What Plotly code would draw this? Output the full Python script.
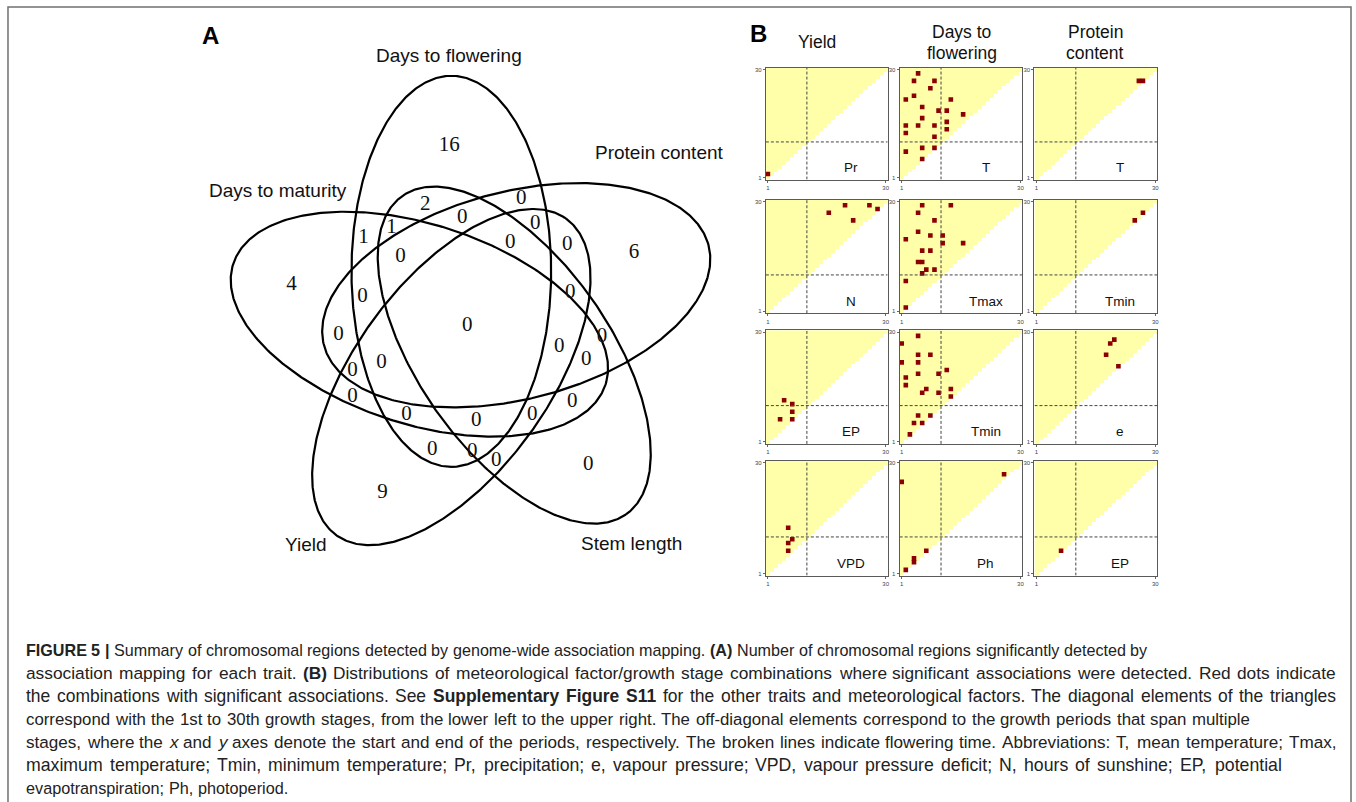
import numpy as np
import plotly.graph_objects as go

W, H = 1356, 802

# ---------------- Panel A: five-trait Venn diagram ----------------
venn_sets = ["Days to flowering", "Days to maturity", "Yield", "Stem length", "Protein content"]
# counts of chromosomal regions in each of the 31 Venn regions
venn_counts = [16, 2, 0, 1, 0, 0, 1, 0, 0, 0, 6, 4, 0, 0, 0, 0, 0,
               0, 0, 0, 0, 0, 0, 0, 0, 0, 0, 0, 0, 0, 9]

# ---------------- Panel B: significant (start, end) stage combinations ----------------
N_STAGES = 30
FLOWERING_STAGE = 10.6

trait_titles = ["Yield", "Days to<br>flowering", "Protein<br>content"]
factor_labels = [["Pr", "T", "T"],
                 ["N", "Tmax", "Tmin"],
                 ["EP", "Tmin", "e"],
                 ["VPD", "Ph", "EP"]]

yield_pr_start = [1]
yield_pr_end = [2]
yield_n_start = [16, 20, 26, 28, 22]
yield_n_end = [27, 29, 29, 28, 25]
yield_ep_start = [5, 7, 7, 4, 7]
yield_ep_end = [12, 11, 9, 7, 7]
yield_vpd_start = [6, 7, 6, 6]
yield_vpd_end = [13, 10, 9, 7]

dtf_t_start = [5, 4, 9, 8, 4, 2, 13, 6, 10, 12, 16, 6, 12, 2, 5, 9, 12, 2, 9, 6, 9, 2, 6]
dtf_t_end = [29, 27, 27, 25, 23, 22, 22, 20, 19, 19, 18, 17, 16, 15, 15, 15, 14, 13, 12, 9, 9, 8, 6]
dtf_tmax_start = [6, 13, 5, 9, 5, 8, 11, 2, 11, 16, 6, 8, 5, 6, 7, 9, 6, 2, 2]
dtf_tmax_end = [29, 29, 27, 25, 22, 21, 21, 20, 19, 19, 17, 17, 14, 14, 12, 12, 11, 9, 2]
dtf_tmin_start = [5, 1, 5, 8, 1, 5, 12, 5, 10, 2, 2, 7, 6, 10, 13, 13, 5, 8, 4, 6, 3]
dtf_tmin_end = [29, 27, 24, 24, 22, 22, 20, 19, 19, 18, 16, 15, 14, 14, 15, 13, 8, 8, 6, 6, 3]
dtf_ph_start = [1, 26, 7, 4, 4, 2]
dtf_ph_end = [25, 27, 7, 5, 4, 2]

prot_t_start = [26, 27]
prot_t_end = [27, 27]
prot_tmin_start = [25, 27]
prot_tmin_end = [25, 27]
prot_e_start = [20, 19, 18, 21]
prot_e_end = [28, 27, 24, 21]
prot_ep_start = [7]
prot_ep_end = [7]

panel_points = [
    [(yield_pr_start, yield_pr_end), (dtf_t_start, dtf_t_end), (prot_t_start, prot_t_end)],
    [(yield_n_start, yield_n_end), (dtf_tmax_start, dtf_tmax_end), (prot_tmin_start, prot_tmin_end)],
    [(yield_ep_start, yield_ep_end), (dtf_tmin_start, dtf_tmin_end), (prot_e_start, prot_e_end)],
    [(yield_vpd_start, yield_vpd_end), (dtf_ph_start, dtf_ph_end), (prot_ep_start, prot_ep_end)],
]

# caption, as (text, style) runs: "" plain, "b" bold, "i" italic
caption_lines = [
    [("FIGURE 5 |", "b"), ("Summary of chromosomal regions detected by genome-wide association mapping.", ""),
     ("(A)", "b"), ("Number of chromosomal regions significantly detected by", "")],
    [("association mapping for each trait.", ""), ("(B)", "b"),
     ("Distributions of meteorological factor/growth stage combinations where significant associations were detected. Red dots indicate", "")],
    [("the combinations with significant associations. See", ""), ("Supplementary Figure S11", "b"),
     ("for the other traits and meteorological factors. The diagonal elements of the triangles", "")],
    [("correspond with the 1st to 30th growth stages, from the lower left to the upper right. The off-diagonal elements correspond to the growth periods that span multiple", "")],
    [("stages, where the", ""), ("x", "i"), ("and", ""), ("y", "i"),
     ("axes denote the start and end of the periods, respectively. The broken lines indicate flowering time. Abbreviations: T, mean temperature; Tmax,", "")],
    [("maximum temperature; Tmin, minimum temperature; Pr, precipitation; e, vapour pressure; VPD, vapour pressure deficit; N, hours of sunshine; EP, potential", "")],
    [("evapotranspiration; Ph, photoperiod.", "")],
]
caption_line_end = [1147, 1336, 1336, 1250, 1336, 1282, 287]

# ---------------- layout helpers (pixel -> paper) ----------------
def px(x):
    return x / W


def py(y):
    return 1 - y / H


SANS = "Liberation Sans, Arial, sans-serif"
SERIF = "Liberation Serif, Times New Roman, serif"

# Arial-compatible advance widths (1/1000 em) used to fit caption lines
_REG = {" ": 278, "!": 278, "(": 333, ")": 333, ",": 278, "-": 333, ".": 278, "/": 278,
        ":": 278, ";": 278, "|": 260}
_BOLD = {" ": 278, "(": 333, ")": 333, ",": 278, "-": 333, ".": 278, "/": 278,
         ":": 333, ";": 333, "|": 280}
for ch in "0123456789":
    _REG[ch] = 556
    _BOLD[ch] = 556
for ch, w in zip("ABCDEFGHIJKLMNOPQRSTUVWXYZ",
                 [667, 667, 722, 722, 667, 611, 778, 722, 278, 500, 667, 556, 833, 722, 778,
                  667, 778, 722, 667, 611, 722, 667, 944, 667, 667, 611]):
    _REG[ch] = w
for ch, w in zip("ABCDEFGHIJKLMNOPQRSTUVWXYZ",
                 [722, 722, 722, 722, 667, 611, 778, 722, 278, 556, 722, 611, 833, 722, 778,
                  667, 778, 722, 667, 611, 722, 667, 944, 667, 667, 611]):
    _BOLD[ch] = w
for ch, w in zip("abcdefghijklmnopqrstuvwxyz",
                 [556, 556, 500, 556, 556, 278, 556, 556, 222, 222, 500, 222, 833, 556, 556,
                  556, 556, 333, 500, 278, 556, 500, 722, 500, 500, 500]):
    _REG[ch] = w
for ch, w in zip("abcdefghijklmnopqrstuvwxyz",
                 [556, 611, 556, 611, 556, 333, 611, 611, 278, 278, 556, 278, 889, 611, 611,
                  611, 611, 389, 556, 333, 611, 556, 778, 556, 556, 500]):
    _BOLD[ch] = w


def text_width(s, style, size):
    table = _BOLD if style == "b" else _REG
    return sum(table.get(ch, 556) for ch in s) * size / 1000.0


fig = go.Figure()
annotations = []
shapes = []

# ---------------- Panel B grid ----------------
col_px = [(767, 889), (901, 1024), (1036, 1159)]
row_px = [(67, 179), (199, 313), (330, 444), (461, 576)]
YELLOW = "#FFFFAA"
DOT = "#8B0000"

stages = np.arange(1, N_STAGES + 1)
ii, jj = np.meshgrid(stages, stages)
tri = np.where(jj >= ii, 1.0, np.nan)

k = 0
for r, (ry0, ry1) in enumerate(row_px):
    for c, (cx0, cx1) in enumerate(col_px):
        k += 1
        xa = "x" if k == 1 else f"x{k}"
        ya = "y" if k == 1 else f"y{k}"
        fig.add_trace(go.Heatmap(
            x=stages, y=stages, z=tri, xaxis=xa, yaxis=ya,
            colorscale=[[0, YELLOW], [1, YELLOW]], showscale=False,
            hoverinfo="skip", xgap=0, ygap=0,
        ))
        starts, ends = panel_points[r][c]
        fig.add_trace(go.Scatter(
            x=starts, y=ends, xaxis=xa, yaxis=ya, mode="markers",
            marker=dict(symbol="square", size=4.6, color=DOT, line=dict(width=0)),
            showlegend=False, hoverinfo="skip",
        ))
        axis_common = dict(
            range=[0.5, N_STAGES + 0.5], tickvals=[1, N_STAGES],
            ticktext=["1", str(N_STAGES)], ticks="outside", ticklen=2,
            tickcolor="#666", tickfont=dict(size=6, color="#444", family=SANS),
            showline=True, mirror=True, linecolor="#5a5a5a", linewidth=1.2,
            showgrid=False, zeroline=False, fixedrange=True,
        )
        fig.update_layout(**{
            ("xaxis" if k == 1 else f"xaxis{k}"): dict(
                domain=[px(cx0), px(cx1)], anchor=ya, **axis_common),
            ("yaxis" if k == 1 else f"yaxis{k}"): dict(
                domain=[py(ry1), py(ry0)], anchor=xa, **axis_common),
        })
        # flowering-time guides
        shapes.append(dict(type="line", xref=xa, yref=ya,
                           x0=FLOWERING_STAGE, x1=FLOWERING_STAGE, y0=0.5, y1=N_STAGES + 0.5,
                           line=dict(color="#444", width=1, dash="3px,2px")))
        shapes.append(dict(type="line", xref=xa, yref=ya,
                           x0=0.5, x1=N_STAGES + 0.5, y0=FLOWERING_STAGE, y1=FLOWERING_STAGE,
                           line=dict(color="#444", width=1, dash="3px,2px")))
        annotations.append(dict(
            xref=xa, yref=ya, x=21.5, y=3.7, text=factor_labels[r][c], showarrow=False,
            xanchor="center", yanchor="middle",
            font=dict(family=SANS, size=13.5, color="#111"),
        ))


def label(x, y, text, size, family=SANS, color="#111"):
    annotations.append(dict(xref="paper", yref="paper", x=px(x), y=py(y), text=text,
                            xanchor="center", yanchor="middle", showarrow=False,
                            font=dict(family=family, size=size, color=color)))


# column titles
title_x = [818, 963, 1097]
for c, t in enumerate(trait_titles):
    if "<br>" in t:
        top, bottom = t.split("<br>")
        label(title_x[c], 31, top, 17.5)
        label(title_x[c], 52, bottom, 17.5)
    else:
        label(title_x[c], 41, t, 17.5)

# ---------------- Panel A drawing (pixel axis) ----------------
VA = "x13"
VY = "y13"
fig.update_layout(
    xaxis13=dict(domain=[0, 1], range=[0, W], visible=False, fixedrange=True, anchor=VY),
    yaxis13=dict(domain=[0, 1], range=[H, 0], visible=False, fixedrange=True, anchor=VA),
)

# ellipse geometry per set: centre (px), semi-minor, semi-major, major-axis direction (deg, screen)
ellipse_geom = [
    ((452, 271), 100, 196, 90.0),    # Days to flowering
    ((420, 324), 100, 196, 18.0),    # Days to maturity
    ((452, 377), 97, 196, -54.0),    # Yield
    ((515, 355), 96, 195, 55.0),     # Stem length
    ((517, 295), 104, 199, -14.6),   # Protein content
]

t = np.linspace(0, 2 * np.pi, 480)
for (cx, cy), a, b, phi in ellipse_geom:
    ph = np.deg2rad(phi)
    ux, uy = np.cos(ph), np.sin(ph)
    ex = cx + b * np.cos(t) * ux - a * np.sin(t) * uy
    ey = cy + b * np.cos(t) * uy + a * np.sin(t) * ux
    fig.add_trace(go.Scatter(
        x=ex, y=ey, xaxis=VA, yaxis=VY,
        mode="lines", line=dict(color="#000", width=2.2), showlegend=False, hoverinfo="skip",
    ))

region_xy = [(450, 145), (426, 204), (522, 198), (392, 227), (463, 217), (536, 223),
             (364, 237), (401, 256), (511, 242), (568, 244), (635, 252), (292, 284),
             (363, 296), (571, 292), (468, 326), (339, 335), (603, 337), (560, 347),
             (382, 363), (353, 371), (587, 360), (353, 397), (573, 402), (407, 415),
             (477, 421), (533, 415), (433, 450), (473, 452), (497, 461), (589, 465),
             (383, 493)]
fig.add_trace(go.Scatter(
    x=[p[0] for p in region_xy], y=[p[1] for p in region_xy], xaxis=VA, yaxis=VY,
    mode="text", text=[str(v) for v in venn_counts],
    textfont=dict(family=SERIF, size=21, color="#111"), showlegend=False, hoverinfo="skip",
))

set_label_xy = [(450, 55), (278, 190), (306, 545), (632, 544), (660, 152)]
for name, (lx, ly) in zip(venn_sets, set_label_xy):
    label(lx, ly, name, 19)

# panel letters
label(211, 35, "<b>A</b>", 24, color="#000")
label(760, 33, "<b>B</b>", 24, color="#000")

# caption: each line scaled towards its measure, remaining slack spread over word gaps
CAP_BASE = 16.0
CAP_LEFT = 24
for i, runs in enumerate(caption_lines):
    words = []
    for text, style in runs:
        for w in text.split(" "):
            if w:
                words.append((w, style))
    n_gaps = max(len(words) - 1, 1)
    natural = sum(text_width(w, s, CAP_BASE) for w, s in words) + n_gaps * text_width(" ", "", CAP_BASE)
    ratio = (caption_line_end[i] - CAP_LEFT) / natural
    size = CAP_BASE * ratio ** 0.75
    widths = [text_width(w, s, size) for w, s in words]
    gap = (caption_line_end[i] - CAP_LEFT - sum(widths)) / n_gaps
    xpos = CAP_LEFT
    for (w, s), wd in zip(words, widths):
        txt = f"<b>{w}</b>" if s == "b" else (f"<i>{w}</i>" if s == "i" else w)
        annotations.append(dict(xref="paper", yref="paper", x=px(xpos), y=py(651 + 23 * i),
                                xanchor="left", yanchor="middle", text=txt, showarrow=False,
                                font=dict(family=SANS, size=size, color="#222")))
        xpos += wd + gap

# outer frame
shapes.append(dict(type="rect", xref="paper", yref="paper", x0=px(8), x1=px(1353),
                   y0=py(810), y1=py(6), line=dict(color="#707070", width=1.5)))

fig.update_layout(
    width=W, height=H, margin=dict(l=0, r=0, t=0, b=0),
    paper_bgcolor="white", plot_bgcolor="rgba(0,0,0,0)",
    showlegend=False, annotations=annotations, shapes=shapes,
)

fig.write_html("out.html")
